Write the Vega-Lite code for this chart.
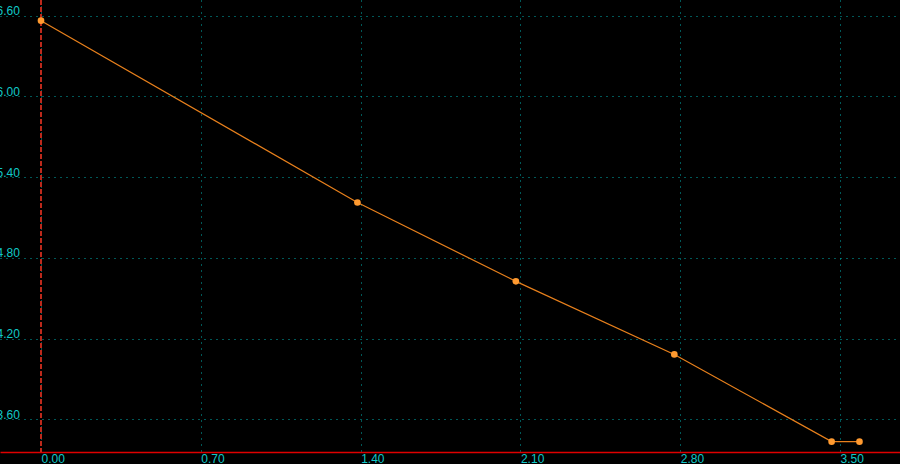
{
  "$schema": "https://vega.github.io/schema/vega-lite/v6.json",
  "width": 900,
  "height": 452,
  "padding": {"left": 0, "top": 0, "right": 0, "bottom": 12},
  "autosize": {"type": "none"},
  "background": "#000000",
  "config": {
    "view": {"stroke": null},
    "axis": {
      "labelFont": "Liberation Sans",
      "labelFontSize": 12,
      "labelColor": "#10c8c8",
      "gridColor": "#00b0b0",
      "gridDash": [1, 5],
      "gridWidth": 1,
      "ticks": false,
      "tickSize": 0,
      "title": null
    }
  },
  "data": {
    "values": [
      {"x": 0.0, "y": 6.563},
      {"x": 1.386, "y": 5.212},
      {"x": 2.08, "y": 4.626},
      {"x": 2.774, "y": 4.083},
      {"x": 3.463, "y": 3.435},
      {"x": 3.585, "y": 3.435}
    ]
  },
  "encoding": {
    "x": {
      "field": "x",
      "type": "quantitative",
      "scale": {"domain": [-0.1796, 3.7625], "nice": false, "zero": false},
      "axis": {
        "values": [0, 0.7, 1.4, 2.1, 2.8, 3.5],
        "format": ".2f",
        "grid": true,
        "domainColor": "#e00000",
        "domainWidth": 1.5,
        "labelAlign": "left",
        "labelBaseline": "top",
        "labelPadding": 1,
        "labelFlush": false,
        "labelOverlap": false
      }
    },
    "y": {
      "field": "y",
      "type": "quantitative",
      "scale": {"domain": [3.358, 6.7166], "nice": false, "zero": false},
      "axis": {
        "values": [3.6, 4.2, 4.8, 5.4, 6.0, 6.6],
        "format": ".2f",
        "grid": true,
        "domain": false,
        "labelAlign": "left",
        "labelBaseline": "alphabetic",
        "labelPadding": 4,
        "labelOffset": -1,
        "labelFlush": false,
        "labelOverlap": false
      }
    }
  },
  "layer": [
    {
      "mark": {"type": "rule", "color": "#c02a1c", "strokeWidth": 1, "strokeDash": [5, 2]},
      "encoding": {
        "x": {"datum": 0, "type": "quantitative"},
        "y": null
      }
    },
    {
      "mark": {"type": "line", "color": "#e8801c", "strokeWidth": 1.2}
    },
    {
      "mark": {"type": "point", "filled": true, "color": "#ff9a30", "opacity": 1, "size": 44}
    }
  ]
}
